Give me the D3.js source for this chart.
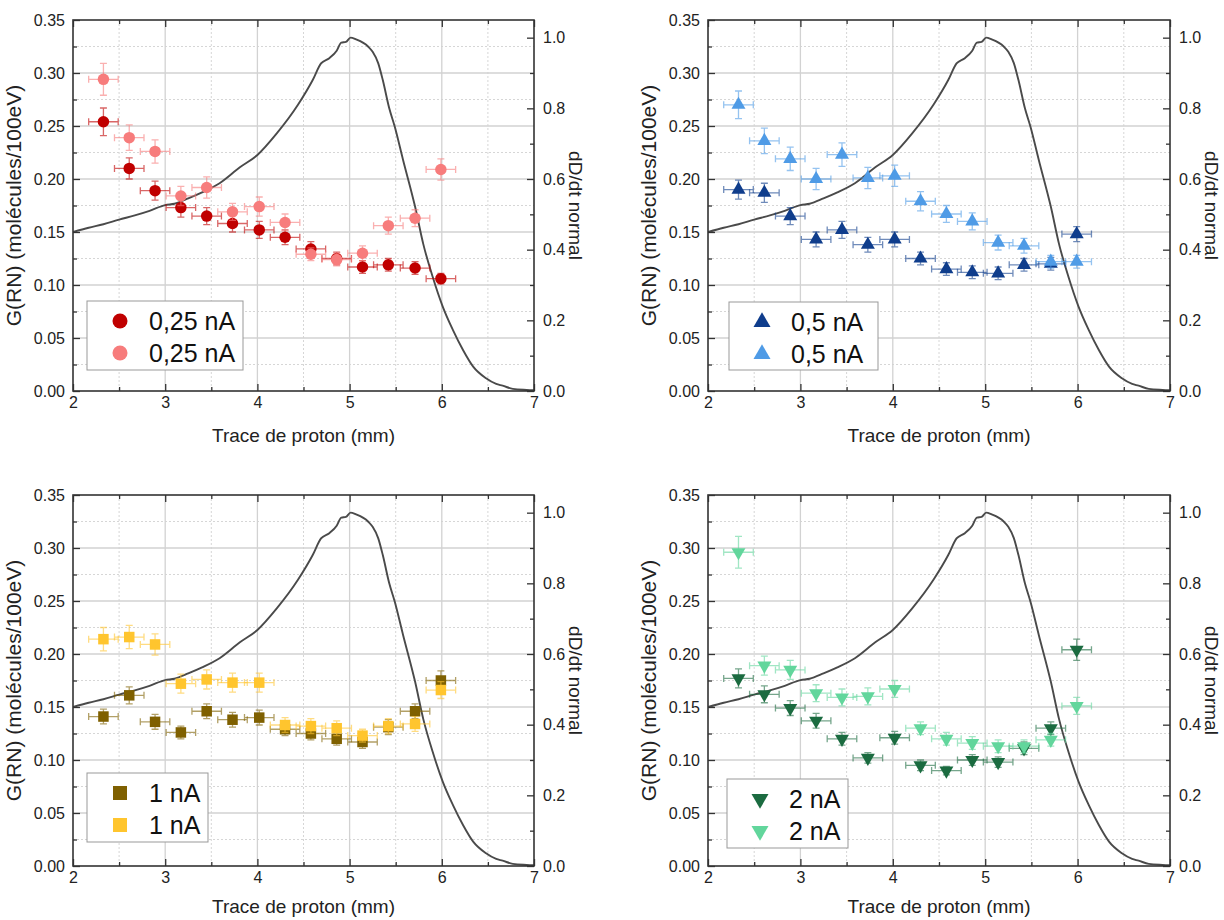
<!DOCTYPE html>
<html><head><meta charset="utf-8">
<script src="https://cdn.jsdelivr.net/npm/d3@7"></script>
<style>
html,body{margin:0;padding:0;background:#fff;}
svg{display:block;font-family:"Liberation Sans",Arial,sans-serif;}
</style></head>
<body>
<svg id="chart" width="1224" height="920"></svg>
<script>
// ---- data ----
const trace = [2.33, 2.61, 2.89, 3.17, 3.45, 3.73, 4.02, 4.30, 4.58, 4.86, 5.14, 5.42, 5.71, 5.99];
const traceErr = [0.16, 0.16, 0.16, 0.16, 0.16, 0.16, 0.16, 0.16, 0.16, 0.16, 0.16, 0.16, 0.16, 0.16];

const g025Dark  = [0.254,0.210,0.189,0.173,0.165,0.158,0.152,0.145,0.134,0.125,0.117,0.119,0.116,0.106];
const e025Dark  = [0.013,0.010,0.009,0.009,0.008,0.008,0.008,0.007,0.007,0.006,0.006,0.006,0.006,0.005];
const g025Light = [0.294,0.239,0.226,0.184,0.192,0.169,0.174,0.159,0.129,0.124,0.130,0.156,0.163,0.209];
const e025Light = [0.015,0.012,0.011,0.009,0.010,0.008,0.009,0.008,0.006,0.006,0.007,0.008,0.008,0.010];

const g05Dark  = [0.190,0.187,0.165,0.143,0.152,0.138,0.143,0.125,0.115,0.112,0.111,0.119,0.120,0.148];
const e05Dark  = [0.009,0.009,0.008,0.007,0.008,0.007,0.007,0.006,0.006,0.006,0.006,0.006,0.006,0.007];
const g05Light = [0.270,0.236,0.219,0.200,0.223,0.201,0.203,0.179,0.167,0.160,0.140,0.137,0.122,0.122];
const e05Light = [0.013,0.012,0.011,0.010,0.011,0.010,0.010,0.009,0.008,0.008,0.007,0.007,0.006,0.006];

const g1Dark  = [0.141,0.161,0.136,0.126,0.146,0.138,0.140,0.129,0.125,0.120,0.117,0.131,0.146,0.175];
const e1Dark  = [0.007,0.008,0.007,0.006,0.007,0.007,0.007,0.006,0.006,0.006,0.006,0.007,0.007,0.009];
const g1Light = [0.214,0.216,0.209,0.172,0.176,0.173,0.173,0.133,0.132,0.130,0.123,0.132,0.134,0.166];
const e1Light = [0.011,0.011,0.010,0.009,0.009,0.009,0.009,0.007,0.007,0.007,0.006,0.007,0.007,0.008];

const g2Dark  = [0.177,0.162,0.149,0.137,0.120,0.102,0.121,0.095,0.090,0.100,0.098,0.111,0.130,0.204];
const e2Dark  = [0.009,0.008,0.007,0.007,0.006,0.005,0.006,0.005,0.004,0.005,0.005,0.006,0.006,0.010];
const g2Light = [0.296,0.189,0.185,0.163,0.159,0.160,0.167,0.130,0.120,0.116,0.113,0.113,0.119,0.151];
const e2Light = [0.015,0.009,0.009,0.008,0.008,0.008,0.008,0.006,0.006,0.006,0.006,0.006,0.006,0.008];

// normalised dose rate curve (right axis)
const doseX = [2.00,2.17,2.33,2.50,2.67,2.83,3.00,3.10,3.25,3.40,3.59,3.81,4.00,4.21,4.44,4.60,4.69,4.78,4.86,4.91,4.96,5.01,5.07,5.20,5.25,5.31,5.36,5.43,5.49,5.58,5.71,5.80,5.90,6.01,6.12,6.23,6.34,6.48,6.59,6.66,6.77,6.92,7.00];
const doseY = [0.450,0.462,0.472,0.485,0.497,0.510,0.526,0.530,0.545,0.562,0.588,0.633,0.668,0.729,0.810,0.880,0.927,0.942,0.963,0.986,0.988,1.000,0.995,0.975,0.960,0.928,0.880,0.800,0.748,0.654,0.522,0.415,0.324,0.239,0.173,0.116,0.069,0.036,0.020,0.015,0.006,0.003,0.002];

const legendLabels = ["0,25 nA", "0,5 nA", "1 nA", "2 nA"];
const xTicks = [2,3,4,5,6,7];
const xMinor = [2.5,3.5,4.5,5.5,6.5];
const yTicks = [0,0.05,0.10,0.15,0.20,0.25,0.30,0.35];
const yMinor = [0.025,0.075,0.125,0.175,0.225,0.275,0.325];
const y2Ticks = [0,0.2,0.4,0.6,0.8,1.0];
const y2Minor = [0.1,0.3,0.5,0.7,0.9];

// ---- layout ----
const FONT = '"Liberation Sans",Arial,sans-serif';
const panels = [
  {x0:73, x1:534, yb:391, yt:20, dark:g025Dark, de:e025Dark, light:g025Light, le:e025Light,
   shape:"circle", cDark:"#c00000", cLight:"#f77c7c", label:legendLabels[0], box:[87,301,156,69], tdy:51},
  {x0:708, x1:1170, yb:391, yt:20, dark:g05Dark, de:e05Dark, light:g05Light, le:e05Light,
   shape:"triangle", cDark:"#0f3d8c", cLight:"#4f9be6", label:legendLabels[1], box:[729,302,149,68], tdy:51},
  {x0:73, x1:534, yb:866, yt:495, dark:g1Dark, de:e1Dark, light:g1Light, le:e1Light,
   shape:"square", cDark:"#7f6000", cLight:"#ffc52e", label:legendLabels[2], box:[87,773,121,69], tdy:47},
  {x0:708, x1:1170, yb:866, yt:495, dark:g2Dark, de:e2Dark, light:g2Light, le:e2Light,
   shape:"triangleDown", cDark:"#1b6b40", cLight:"#62d69c", label:legendLabels[3], box:[727,779,121,69], tdy:47}
];

function symbolPath(shape, size){
  const a = size;
  if (shape === "circle") {
    const r = a/2;
    return `M${r},0A${r},${r} 0 1,1 ${-r},0A${r},${r} 0 1,1 ${r},0Z`;
  }
  if (shape === "square") {
    const h = a/2;
    return `M${-h},${-h}H${h}V${h}H${-h}Z`;
  }
  const ht = a*0.866;
  if (shape === "triangle") return `M0,${-2*ht/3}L${a/2},${ht/3}L${-a/2},${ht/3}Z`;
  return `M0,${2*ht/3}L${a/2},${-ht/3}L${-a/2},${-ht/3}Z`;
}
const plotSize = {circle:11.5, square:10.5, triangle:14, triangleDown:14};
const legSize = {circle:15, square:14, triangle:17, triangleDown:17};

const svg = d3.select("#chart");
svg.append("rect").attr("width",1224).attr("height",920).attr("fill","#fff");

panels.forEach((p, pi) => {
  const x = d3.scaleLinear().domain([2,7]).range([p.x0, p.x1]);
  const y = d3.scaleLinear().domain([0,0.35]).range([p.yb, p.yt]);
  const y2 = d3.scaleLinear().domain([0,1.05]).range([p.yb, p.yt]);
  const g = svg.append("g");

  // grid
  const grid = g.append("g");
  grid.selectAll(".vmin").data(xMinor).join("line")
    .attr("x1", d=>x(d)).attr("x2", d=>x(d)).attr("y1", p.yt).attr("y2", p.yb)
    .attr("stroke","#d6d6d6").attr("stroke-width",1).attr("stroke-dasharray","2,2");
  grid.selectAll(".hmin").data(yMinor).join("line")
    .attr("y1", d=>y(d)).attr("y2", d=>y(d)).attr("x1", p.x0).attr("x2", p.x1)
    .attr("stroke","#d6d6d6").attr("stroke-width",1).attr("stroke-dasharray","2,2");
  grid.selectAll(".vmaj").data(xTicks.slice(1,-1)).join("line")
    .attr("x1", d=>x(d)).attr("x2", d=>x(d)).attr("y1", p.yt).attr("y2", p.yb)
    .attr("stroke","#d2d2d2").attr("stroke-width",1.3);
  grid.selectAll(".hmaj").data(yTicks.slice(1,-1)).join("line")
    .attr("y1", d=>y(d)).attr("y2", d=>y(d)).attr("x1", p.x0).attr("x2", p.x1)
    .attr("stroke","#d2d2d2").attr("stroke-width",1.3);

  // clip
  const cid = "clip"+pi;
  svg.append("clipPath").attr("id",cid).append("rect")
    .attr("x",p.x0).attr("y",p.yt).attr("width",p.x1-p.x0).attr("height",p.yb-p.yt);
  const plot = g.append("g").attr("clip-path",`url(#${cid})`);

  // dose curve
  const line = d3.line().x((d,i)=>x(doseX[i])).y(d=>y2(d)).curve(d3.curveMonotoneX);
  plot.append("path").datum(doseY).attr("d", line)
    .attr("fill","none").attr("stroke","#4a4a4a").attr("stroke-width",1.9).attr("stroke-linejoin","round");

  // series
  [[p.dark,p.de,p.cDark],[p.light,p.le,p.cLight]].forEach(([vals, errs, col]) => {
    const sg = plot.append("g");
    const eb = sg.append("g").attr("stroke",col).attr("stroke-opacity",0.6).attr("stroke-width",1.3).attr("fill","none");
    vals.forEach((v,i) => {
      const cx = x(trace[i]), cy = y(v);
      const xl = x(trace[i]-traceErr[i]), xr = x(trace[i]+traceErr[i]);
      const yt = y(v+errs[i]), ybm = y(v-errs[i]);
      eb.append("path").attr("d",
        `M${xl},${cy}H${xr}M${xl},${cy-3.5}V${cy+3.5}M${xr},${cy-3.5}V${cy+3.5}` +
        `M${cx},${yt}V${ybm}M${cx-3.5},${yt}H${cx+3.5}M${cx-3.5},${ybm}H${cx+3.5}`);
    });
    sg.selectAll(".m").data(vals).join("path")
      .attr("transform",(d,i)=>`translate(${x(trace[i])},${y(d)})`)
      .attr("d", symbolPath(p.shape, plotSize[p.shape]))
      .attr("fill", col);
  });

  // axes
  const ax = g.append("g").attr("font-family",FONT);
  function styleAxis(sel){
    sel.select(".domain").remove();
    sel.selectAll(".tick line").attr("stroke","#333").attr("stroke-width",1.3);
    sel.selectAll(".tick text").attr("fill","#222").attr("font-size",16).attr("font-family",FONT);
  }
  ax.append("g").attr("transform",`translate(0,${p.yb})`)
    .call(d3.axisBottom(x).tickValues(xTicks).tickFormat(d3.format("d")).tickSizeInner(-7).tickSizeOuter(0).tickPadding(6))
    .call(styleAxis);
  ax.append("g").attr("transform",`translate(0,${p.yb})`)
    .call(d3.axisBottom(x).tickValues(xMinor).tickFormat("").tickSizeInner(-4).tickSizeOuter(0))
    .call(styleAxis);
  ax.append("g").attr("transform",`translate(0,${p.yt})`)
    .call(d3.axisTop(x).tickValues(xTicks).tickFormat("").tickSizeInner(-7).tickSizeOuter(0))
    .call(styleAxis);
  ax.append("g").attr("transform",`translate(0,${p.yt})`)
    .call(d3.axisTop(x).tickValues(xMinor).tickFormat("").tickSizeInner(-4).tickSizeOuter(0))
    .call(styleAxis);
  ax.append("g").attr("transform",`translate(${p.x0},0)`)
    .call(d3.axisLeft(y).tickValues(yTicks).tickFormat(d3.format(".2f")).tickSizeInner(-7).tickSizeOuter(0).tickPadding(8))
    .call(styleAxis);
  ax.append("g").attr("transform",`translate(${p.x0},0)`)
    .call(d3.axisLeft(y).tickValues(yMinor).tickFormat("").tickSizeInner(-4).tickSizeOuter(0))
    .call(styleAxis);
  ax.append("g").attr("transform",`translate(${p.x1},0)`)
    .call(d3.axisRight(y2).tickValues(y2Ticks).tickFormat(d3.format(".1f")).tickSizeInner(-7).tickSizeOuter(0).tickPadding(9))
    .call(styleAxis);
  ax.append("g").attr("transform",`translate(${p.x1},0)`)
    .call(d3.axisRight(y2).tickValues(y2Minor).tickFormat("").tickSizeInner(-4).tickSizeOuter(0))
    .call(styleAxis);
  // frame
  g.append("rect").attr("x",p.x0).attr("y",p.yt).attr("width",p.x1-p.x0).attr("height",p.yb-p.yt)
    .attr("fill","none").attr("stroke","#333").attr("stroke-width",1.6);

  // titles
  g.append("text").attr("x",(p.x0+p.x1)/2).attr("y",p.yb+p.tdy).attr("text-anchor","middle")
    .attr("font-size",19).attr("fill","#222").attr("font-family",FONT).text("Trace de proton (mm)");
  g.append("text").attr("transform",`translate(${p.x0-52},${(p.yb+p.yt)/2}) rotate(-90)`)
    .attr("text-anchor","middle").attr("font-size",21).attr("fill","#222").attr("font-family",FONT)
    .text("G(RN) (molécules/100eV)");
  g.append("text").attr("transform",`translate(${p.x1+35},${(p.yb+p.yt)/2}) rotate(90)`)
    .attr("text-anchor","middle").attr("font-size",19).attr("fill","#222").attr("font-family",FONT)
    .text("dD/dt normal");

  // legend
  const [bx,by,bw,bh] = p.box;
  const lg = g.append("g");
  lg.append("rect").attr("x",bx).attr("y",by).attr("width",bw).attr("height",bh)
    .attr("fill","#fff").attr("stroke","#999").attr("stroke-width",1);
  [p.cDark,p.cLight].forEach((c,k) => {
    const ry = by + 20 + k*32;
    lg.append("path").attr("transform",`translate(${bx+33},${ry})`)
      .attr("d", symbolPath(p.shape, legSize[p.shape])).attr("fill", c);
    lg.append("text").attr("x",bx+62).attr("y",ry+9).attr("font-size",25)
      .attr("fill","#111").attr("font-family",FONT).text(p.label);
  });
});
</script>
</body></html>
